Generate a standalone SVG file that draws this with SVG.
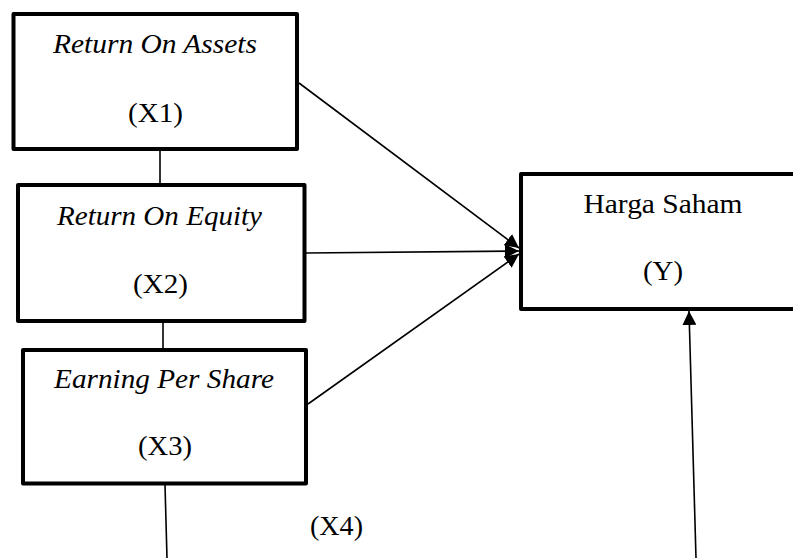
<svg xmlns="http://www.w3.org/2000/svg" width="793" height="558" viewBox="0 0 793 558">
<defs>
<style>
.box{fill:#fff;stroke:#000;stroke-width:4;stroke-linejoin:round}
.t{font-family:"Liberation Serif","Times New Roman",serif;font-size:28px;fill:#000;text-anchor:middle}
.i{font-style:italic}
.c{stroke:#000;stroke-width:1.6;fill:none}
</style>
<marker id="ah" markerUnits="userSpaceOnUse" markerWidth="15" markerHeight="14" refX="14" refY="7" orient="auto">
<path d="M0,0 L14,7 L0,14 z" fill="#000"/>
</marker>
</defs>
<rect width="793" height="558" fill="#fff"/>
<g id="connectors">
<line class="c" x1="160" y1="151" x2="160" y2="183"/>
<line class="c" x1="163" y1="323" x2="163" y2="348"/>
<line class="c" x1="165" y1="485" x2="167" y2="558"/>
<line class="c" x1="299" y1="83" x2="519" y2="248" marker-end="url(#ah)"/>
<line class="c" x1="306" y1="253" x2="519" y2="251" marker-end="url(#ah)"/>
<line class="c" x1="308" y1="404" x2="519" y2="254" marker-end="url(#ah)"/>
<line class="c" x1="696" y1="558" x2="689" y2="311" marker-end="url(#ah)"/>
</g>
<g id="x1">
<rect class="box" x="13.5" y="14" width="283.5" height="135"/>
<text class="t i" x="155" y="53" textLength="204" lengthAdjust="spacingAndGlyphs">Return On Assets</text>
<text class="t" x="155.5" y="122" textLength="55" lengthAdjust="spacingAndGlyphs">(X1)</text>
</g>
<g id="x2">
<rect class="box" x="18" y="185" width="286.5" height="136"/>
<text class="t i" x="159.5" y="225" textLength="205" lengthAdjust="spacingAndGlyphs">Return On Equity</text>
<text class="t" x="160.5" y="293" textLength="55" lengthAdjust="spacingAndGlyphs">(X2)</text>
</g>
<g id="x3">
<rect class="box" x="23" y="350" width="283" height="133.5"/>
<text class="t i" x="164" y="388" textLength="220" lengthAdjust="spacingAndGlyphs">Earning Per Share</text>
<text class="t" x="165" y="455" textLength="54" lengthAdjust="spacingAndGlyphs">(X3)</text>
</g>
<g id="y">
<rect class="box" x="521" y="174" width="280" height="135"/>
<text class="t" x="663" y="213" textLength="159" lengthAdjust="spacingAndGlyphs">Harga Saham</text>
<text class="t" x="663" y="280" textLength="40" lengthAdjust="spacingAndGlyphs">(Y)</text>
</g>
<g id="x4">
<text class="t" x="336.5" y="535" textLength="53" lengthAdjust="spacingAndGlyphs">(X4)</text>
</g>
</svg>
